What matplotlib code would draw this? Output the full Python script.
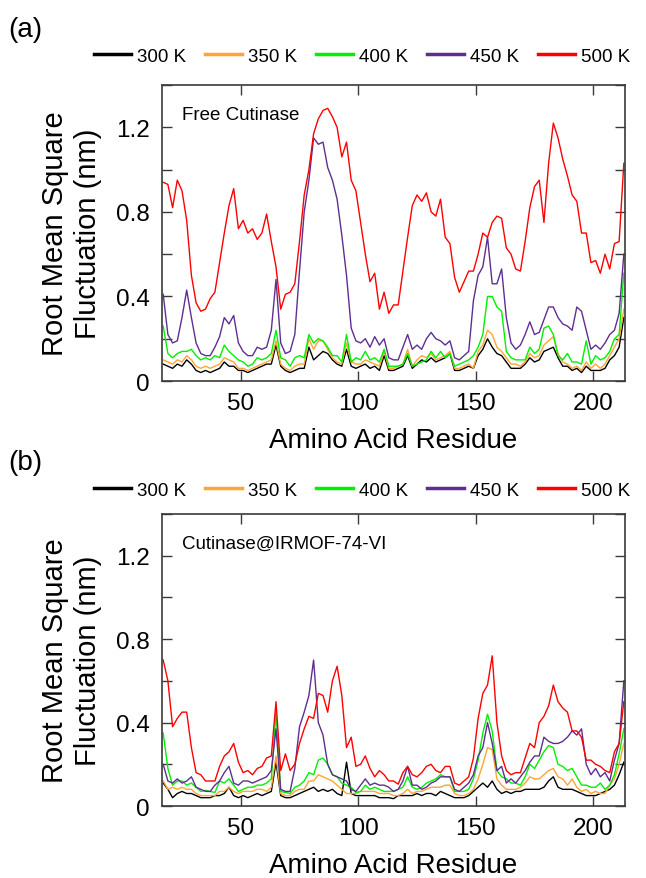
import numpy as np
import matplotlib
matplotlib.use('Agg')
import matplotlib.pyplot as plt
from matplotlib.ticker import MultipleLocator, FuncFormatter

plt.rcParams['font.family'] = ['Liberation Sans', 'DejaVu Sans']

######data############################################################################

residue = np.arange(17, 214, 2)

temps = ['300 K', '350 K', '400 K', '450 K', '500 K']
colors = ['black', '#FFA531', '#00F000', '#5E2E91', '#FF0000']

# (a) free cutinase
free_300 = [0.08, 0.07, 0.06, 0.08, 0.07, 0.10, 0.08, 0.05, 0.04, 0.05,
            0.04, 0.05, 0.06, 0.09, 0.07, 0.07, 0.05, 0.05, 0.04, 0.05,
            0.06, 0.07, 0.08, 0.08, 0.17, 0.07, 0.05, 0.04, 0.05, 0.06,
            0.06, 0.16, 0.10, 0.12, 0.14, 0.13, 0.10, 0.08, 0.07, 0.15,
            0.07, 0.06, 0.07, 0.08, 0.06, 0.07, 0.05, 0.12, 0.05, 0.05,
            0.06, 0.07, 0.12, 0.06, 0.08, 0.10, 0.09, 0.11, 0.09, 0.10,
            0.11, 0.13, 0.05, 0.05, 0.06, 0.07, 0.06, 0.12, 0.15, 0.20,
            0.16, 0.13, 0.12, 0.09, 0.06, 0.06, 0.06, 0.08, 0.11, 0.09,
            0.10, 0.14, 0.15, 0.16, 0.11, 0.07, 0.07, 0.05, 0.06, 0.04,
            0.07, 0.05, 0.05, 0.05, 0.06, 0.10, 0.12, 0.16, 0.30]
free_350 = [0.10, 0.09, 0.08, 0.10, 0.09, 0.12, 0.10, 0.07, 0.06, 0.07,
            0.06, 0.07, 0.08, 0.11, 0.10, 0.09, 0.06, 0.06, 0.05, 0.06,
            0.07, 0.08, 0.09, 0.10, 0.19, 0.08, 0.06, 0.05, 0.07, 0.08,
            0.08, 0.20, 0.15, 0.19, 0.19, 0.15, 0.11, 0.09, 0.08, 0.18,
            0.09, 0.08, 0.08, 0.10, 0.09, 0.08, 0.07, 0.14, 0.06, 0.06,
            0.07, 0.08, 0.15, 0.07, 0.10, 0.12, 0.11, 0.13, 0.10, 0.11,
            0.12, 0.14, 0.06, 0.06, 0.07, 0.08, 0.06, 0.14, 0.17, 0.24,
            0.22, 0.16, 0.14, 0.11, 0.08, 0.08, 0.07, 0.09, 0.13, 0.11,
            0.12, 0.17, 0.19, 0.21, 0.13, 0.09, 0.08, 0.06, 0.07, 0.05,
            0.09, 0.06, 0.08, 0.06, 0.08, 0.12, 0.16, 0.20, 0.34]
free_400 = [0.26, 0.13, 0.11, 0.13, 0.14, 0.14, 0.15, 0.12, 0.10, 0.11,
            0.10, 0.12, 0.11, 0.17, 0.14, 0.12, 0.10, 0.09, 0.07, 0.08,
            0.11, 0.10, 0.11, 0.13, 0.24, 0.11, 0.10, 0.07, 0.11, 0.12,
            0.11, 0.22, 0.18, 0.20, 0.19, 0.16, 0.12, 0.12, 0.09, 0.22,
            0.09, 0.11, 0.10, 0.14, 0.10, 0.11, 0.09, 0.15, 0.07, 0.07,
            0.07, 0.08, 0.13, 0.07, 0.08, 0.09, 0.10, 0.14, 0.11, 0.14,
            0.11, 0.13, 0.07, 0.08, 0.09, 0.10, 0.12, 0.16, 0.22, 0.40,
            0.40, 0.35, 0.33, 0.14, 0.11, 0.10, 0.10, 0.10, 0.16, 0.13,
            0.15, 0.25, 0.26, 0.22, 0.12, 0.10, 0.13, 0.09, 0.09, 0.08,
            0.19, 0.08, 0.12, 0.10, 0.11, 0.14, 0.20, 0.22, 0.51]
free_450 = [0.41, 0.22, 0.18, 0.19, 0.30, 0.43, 0.30, 0.18, 0.13, 0.12,
            0.12, 0.16, 0.21, 0.30, 0.27, 0.31, 0.18, 0.14, 0.12, 0.12,
            0.16, 0.15, 0.16, 0.24, 0.48, 0.18, 0.13, 0.14, 0.22, 0.52,
            0.80, 0.95, 1.15, 1.12, 1.13, 1.01, 0.95, 0.86, 0.69, 0.50,
            0.25, 0.19, 0.18, 0.20, 0.16, 0.21, 0.17, 0.20, 0.11, 0.10,
            0.10, 0.16, 0.22, 0.15, 0.17, 0.15, 0.20, 0.23, 0.20, 0.19,
            0.17, 0.19, 0.11, 0.10, 0.12, 0.14, 0.38, 0.50, 0.54, 0.68,
            0.46, 0.46, 0.53, 0.30, 0.18, 0.15, 0.17, 0.22, 0.28, 0.22,
            0.23, 0.29, 0.35, 0.35, 0.30, 0.27, 0.26, 0.24, 0.35, 0.33,
            0.24, 0.15, 0.17, 0.15, 0.18, 0.22, 0.24, 0.32, 0.60]
free_500 = [0.94, 0.93, 0.82, 0.95, 0.90, 0.76, 0.50, 0.37, 0.33, 0.34,
            0.39, 0.42, 0.56, 0.70, 0.83, 0.91, 0.72, 0.76, 0.70, 0.72,
            0.67, 0.70, 0.79, 0.66, 0.54, 0.34, 0.41, 0.42, 0.46, 0.66,
            0.88, 1.00, 1.17, 1.24, 1.28, 1.29, 1.25, 1.20, 1.06, 1.13,
            0.95, 0.90, 0.75, 0.60, 0.47, 0.51, 0.34, 0.42, 0.32, 0.36,
            0.36, 0.52, 0.68, 0.83, 0.88, 0.85, 0.89, 0.80, 0.78, 0.86,
            0.68, 0.65, 0.49, 0.42, 0.47, 0.52, 0.52, 0.60, 0.70, 0.68,
            0.75, 0.78, 0.77, 0.63, 0.60, 0.53, 0.52, 0.66, 0.82, 0.92,
            0.95, 0.75, 1.03, 1.22, 1.15, 1.05, 0.97, 0.88, 0.85, 0.70,
            0.70, 0.56, 0.57, 0.51, 0.60, 0.53, 0.65, 0.66, 1.03]

# (b) cutinase@IRMOF-74-VI
mof_300 = [0.11, 0.08, 0.04, 0.06, 0.07, 0.06, 0.06, 0.05, 0.04, 0.04,
           0.04, 0.05, 0.05, 0.06, 0.09, 0.05, 0.04, 0.05, 0.04, 0.05,
           0.06, 0.05, 0.06, 0.07, 0.21, 0.05, 0.04, 0.04, 0.05, 0.06,
           0.07, 0.08, 0.09, 0.07, 0.08, 0.07, 0.08, 0.06, 0.05, 0.21,
           0.06, 0.05, 0.05, 0.05, 0.05, 0.05, 0.04, 0.04, 0.04, 0.035,
           0.05, 0.05, 0.05, 0.05, 0.06, 0.05, 0.06, 0.06, 0.05, 0.07,
           0.06, 0.05, 0.04, 0.04, 0.04, 0.05, 0.07, 0.09, 0.11, 0.09,
           0.12, 0.08, 0.06, 0.07, 0.06, 0.07, 0.07, 0.08, 0.08, 0.08,
           0.08, 0.09, 0.12, 0.14, 0.09, 0.08, 0.08, 0.08, 0.07, 0.06,
           0.05, 0.05, 0.05, 0.06, 0.07, 0.08, 0.10, 0.15, 0.21]
mof_350 = [0.12, 0.08, 0.09, 0.08, 0.09, 0.08, 0.08, 0.06, 0.05, 0.05,
           0.05, 0.05, 0.07, 0.07, 0.09, 0.07, 0.06, 0.07, 0.07, 0.07,
           0.08, 0.08, 0.07, 0.09, 0.24, 0.06, 0.05, 0.05, 0.07, 0.08,
           0.08, 0.12, 0.12, 0.15, 0.14, 0.13, 0.12, 0.10, 0.08, 0.06,
           0.06, 0.06, 0.07, 0.07, 0.07, 0.07, 0.06, 0.06, 0.06, 0.05,
           0.05, 0.06, 0.08, 0.06, 0.07, 0.07, 0.08, 0.09, 0.09, 0.09,
           0.10, 0.10, 0.06, 0.05, 0.05, 0.06, 0.08, 0.13, 0.20, 0.28,
           0.27, 0.13, 0.10, 0.08, 0.08, 0.08, 0.09, 0.11, 0.14, 0.13,
           0.13, 0.15, 0.17, 0.18, 0.14, 0.13, 0.10, 0.13, 0.09, 0.07,
           0.08, 0.06, 0.07, 0.06, 0.06, 0.10, 0.13, 0.20, 0.30]
mof_400 = [0.35, 0.18, 0.10, 0.12, 0.12, 0.10, 0.11, 0.09, 0.07, 0.075,
           0.07, 0.065, 0.12, 0.11, 0.13, 0.10, 0.07, 0.08, 0.09, 0.09,
           0.10, 0.10, 0.11, 0.13, 0.45, 0.07, 0.065, 0.06, 0.09, 0.10,
           0.12, 0.16, 0.15, 0.22, 0.23, 0.20, 0.15, 0.14, 0.11, 0.10,
           0.09, 0.065, 0.07, 0.10, 0.08, 0.09, 0.08, 0.07, 0.07, 0.07,
           0.08, 0.09, 0.14, 0.09, 0.08, 0.09, 0.11, 0.12, 0.13, 0.15,
           0.14, 0.14, 0.07, 0.07, 0.07, 0.08, 0.13, 0.22, 0.35, 0.44,
           0.36, 0.17, 0.14, 0.13, 0.11, 0.11, 0.10, 0.14, 0.20, 0.18,
           0.22, 0.26, 0.29, 0.28, 0.20, 0.19, 0.17, 0.18, 0.14, 0.10,
           0.10, 0.09, 0.09, 0.11, 0.08, 0.10, 0.15, 0.25, 0.37]
mof_450 = [0.20, 0.12, 0.11, 0.13, 0.11, 0.12, 0.14, 0.09, 0.08, 0.07,
           0.07, 0.10, 0.12, 0.16, 0.19, 0.11, 0.10, 0.12, 0.12, 0.11,
           0.12, 0.13, 0.14, 0.17, 0.37, 0.08, 0.07, 0.07, 0.18, 0.38,
           0.45, 0.53, 0.70, 0.40, 0.34, 0.20, 0.15, 0.14, 0.13, 0.12,
           0.08, 0.07, 0.10, 0.13, 0.10, 0.11, 0.10, 0.10, 0.09, 0.07,
           0.08, 0.12, 0.19, 0.10, 0.10, 0.08, 0.09, 0.11, 0.12, 0.14,
           0.14, 0.14, 0.08, 0.07, 0.09, 0.11, 0.15, 0.24, 0.28, 0.40,
           0.30, 0.17, 0.19, 0.11, 0.13, 0.11, 0.14, 0.17, 0.21, 0.24,
           0.24, 0.33, 0.31, 0.30, 0.30, 0.31, 0.33, 0.36, 0.34, 0.37,
           0.20, 0.15, 0.18, 0.14, 0.16, 0.12, 0.22, 0.30, 0.60]
mof_500 = [0.70, 0.60, 0.38, 0.42, 0.45, 0.45, 0.28, 0.16, 0.15, 0.12,
           0.12, 0.12, 0.19, 0.24, 0.26, 0.30, 0.21, 0.16, 0.17, 0.15,
           0.18, 0.19, 0.23, 0.24, 0.50, 0.17, 0.25, 0.17, 0.20, 0.30,
           0.37, 0.43, 0.42, 0.54, 0.53, 0.45, 0.60, 0.67, 0.53, 0.28,
           0.33, 0.19, 0.20, 0.24, 0.18, 0.14, 0.17, 0.15, 0.12, 0.12,
           0.105, 0.16, 0.19, 0.15, 0.14, 0.16, 0.19, 0.20, 0.17, 0.16,
           0.19, 0.19, 0.11, 0.10, 0.12, 0.14, 0.23, 0.42, 0.54, 0.58,
           0.72, 0.40, 0.24, 0.17, 0.15, 0.16, 0.16, 0.23, 0.30, 0.28,
           0.40, 0.43, 0.48, 0.58, 0.50, 0.47, 0.45, 0.36, 0.36, 0.33,
           0.22, 0.22, 0.20, 0.19, 0.17, 0.16, 0.26, 0.30, 0.50]

panels = [
    ('(a)', 'Free Cutinase', [free_300, free_350, free_400, free_450, free_500]),
    ('(b)', 'Cutinase@IRMOF-74-VI', [mof_300, mof_350, mof_400, mof_450, mof_500]),
]

######plotting########################################################################

fig = plt.figure(figsize=(6.46, 8.79), dpi=100)

axes_rects = [[0.2508, 0.5654, 0.7167, 0.3367],
              [0.2508, 0.0819, 0.7167, 0.3322]]
label_y = [0.966, 0.473]
legend_y = [0.935, 0.4414]

spine_color = '#3a3a3a'

for k in range(2):
    tag, note, series = panels[k]
    ax = fig.add_axes(axes_rects[k])
    for i in range(5):
        ax.plot(residue, series[i], color=colors[i], lw=1.0, label=temps[i])

    ax.set_xlim(16.5, 213.5)
    ax.set_ylim(0, 1.4)
    ax.xaxis.set_major_locator(MultipleLocator(50))
    ax.yaxis.set_major_locator(MultipleLocator(0.4))
    ax.yaxis.set_minor_locator(MultipleLocator(0.2))
    ax.yaxis.set_major_formatter(FuncFormatter(lambda v, p: '0' if abs(v) < 1e-9 else '%.1f' % v))
    ax.tick_params(which='both', direction='in', top=True, right=True,
                   length=7, width=1.0, color=spine_color, labelsize=17.5)
    ax.tick_params(axis='y', pad=9)
    ax.tick_params(axis='x', pad=8)
    for s in ax.spines.values():
        s.set_color(spine_color)
        s.set_linewidth(1.2)

    ax.set_xlabel('Amino Acid Residue', fontsize=20, labelpad=9)
    ax.set_ylabel('Root Mean Square\nFluctuation (nm)', fontsize=21, labelpad=10)
    ax.text(0.043, 0.90, note, transform=ax.transAxes, fontsize=13.5, va='center')

    fig.text(0.012, label_y[k], tag, fontsize=20, va='center')
    leg = ax.legend(loc='center left', bbox_to_anchor=(0.145, legend_y[k]),
                    bbox_transform=fig.transFigure, ncol=5,
                    frameon=False, fontsize=13.5, handlelength=2.0, handletextpad=0.3,
                    columnspacing=1.0, borderaxespad=0, borderpad=0)
    for h in leg.get_lines():
        h.set_linewidth(2.5)

fig.savefig('out.png', dpi=100)
